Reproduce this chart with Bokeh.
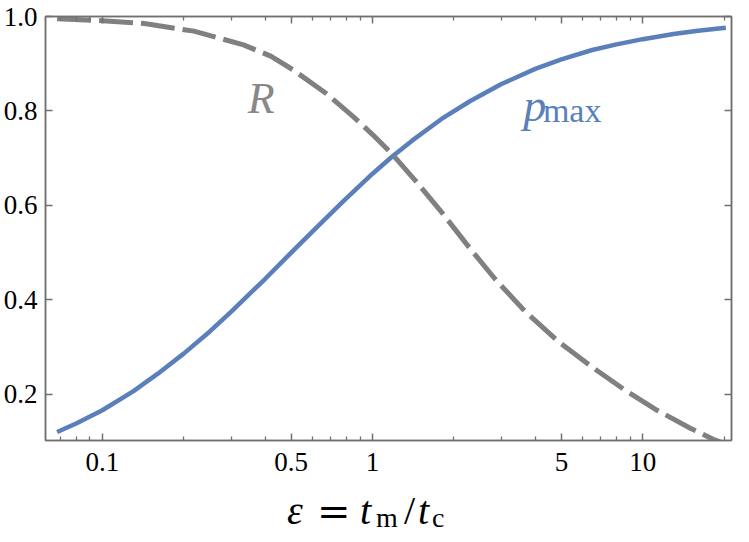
from bokeh.plotting import figure
from bokeh.layouts import column
from bokeh.models import (FixedTicker, LinearAxis, LogAxis, Label, Range1d,
                          CustomJSTickFormatter, Div)
from bokeh.embed import file_html
from bokeh.resources import INLINE

# ---- data ----
eps_p = [0.068, 0.08, 0.1, 0.13, 0.16, 0.2, 0.25, 0.3, 0.4, 0.5, 0.6, 0.78,
         1.0, 1.18, 1.4, 1.8, 2.3, 3.0, 4.0, 5.0, 6.5, 8.0, 10.0, 13.0, 16.0, 20.3]
p_max = [0.120, 0.138, 0.166, 0.206, 0.243, 0.286, 0.333, 0.375, 0.444, 0.500,
         0.545, 0.609, 0.667, 0.703, 0.737, 0.783, 0.821, 0.857, 0.889, 0.909,
         0.929, 0.941, 0.952, 0.963, 0.970, 0.976]

eps_R = [0.068, 0.1, 0.143, 0.218, 0.333, 0.42, 0.508, 0.674, 0.844, 1.0,
         1.184, 1.443, 1.81, 2.27, 2.84, 3.66, 4.86, 6.44, 8.53, 11.3, 15.0, 18.3, 19.3]
R_val = [0.995, 0.991, 0.985, 0.969, 0.940, 0.916, 0.887, 0.837, 0.789, 0.750,
         0.708, 0.652, 0.584, 0.512, 0.444, 0.376, 0.312, 0.259, 0.210, 0.166,
         0.128, 0.104, 0.099]

x_ticks = [0.1, 0.5, 1, 5, 10]
x_tick_labels = ["0.1", "0.5", "1", "5", "10"]
x_minor_ticks = [0.07, 0.08, 0.09, 0.2, 0.3, 0.4, 0.6, 0.7, 0.8, 0.9,
                 2, 3, 4, 6, 7, 8, 9, 20]
y_ticks = [0.2, 0.4, 0.6, 0.8, 1.0]
y_tick_labels = ["0.2", "0.4", "0.6", "0.8", "1.0"]

# ---- styling ----
FRAME = "#707070"
BLUE = "#5a7fbb"
GRAY = "#808080"
SERIF = "Liberation Serif"

W = 733
H_MAIN = 480
H_TITLE = 526 - H_MAIN

p = figure(width=W, height=H_MAIN, x_axis_type="log",
           x_range=Range1d(0.0616, 21.3), y_range=Range1d(0.102, 1.0),
           output_backend="svg", toolbar_location=None,
           min_border_left=43, min_border_right=2, min_border_top=16,
           min_border_bottom=40)
p.xgrid.visible = False
p.ygrid.visible = False
p.outline_line_color = FRAME
p.outline_line_width = 1.5
p.background_fill_color = "white"
p.border_fill_color = "white"

fmt_code = ("const i = v.findIndex(t => Math.abs(t - tick) < 1e-9 * Math.max(1, Math.abs(tick)));"
            "return i >= 0 ? l[i] : '';")


def style_axis(ax, labels=True):
    ax.axis_line_color = FRAME
    ax.axis_line_width = 1.5
    ax.major_tick_line_color = FRAME
    ax.minor_tick_line_color = FRAME
    ax.major_tick_line_width = 1.5
    ax.minor_tick_line_width = 1.3
    ax.major_tick_in = 7
    ax.major_tick_out = 0
    ax.minor_tick_in = 4
    ax.minor_tick_out = 0
    ax.major_label_text_font = SERIF
    ax.major_label_text_color = "black"
    ax.major_label_text_font_size = "27px" if labels else "0px"
    if not labels:
        ax.major_label_standoff = 0


xa = p.xaxis[0]
xa.ticker = FixedTicker(ticks=x_ticks, minor_ticks=x_minor_ticks)
xa.formatter = CustomJSTickFormatter(args=dict(v=x_ticks, l=x_tick_labels), code=fmt_code)
style_axis(xa)
xa.major_label_standoff = 12

ya = p.yaxis[0]
ya.ticker = FixedTicker(ticks=y_ticks, minor_ticks=[])
ya.formatter = CustomJSTickFormatter(args=dict(v=y_ticks, l=y_tick_labels), code=fmt_code)
style_axis(ya)
ya.major_label_standoff = 8

top = LogAxis(ticker=FixedTicker(ticks=x_ticks, minor_ticks=x_minor_ticks),
              formatter=CustomJSTickFormatter(code="return '';"))
style_axis(top, labels=False)
p.add_layout(top, "above")

right = LinearAxis(ticker=FixedTicker(ticks=y_ticks, minor_ticks=[]),
                   formatter=CustomJSTickFormatter(code="return '';"))
style_axis(right, labels=False)
p.add_layout(right, "right")

# ---- curves ----
p.line(eps_p, p_max, line_color=BLUE, line_width=4.5)
p.line(eps_R, R_val, line_color=GRAY, line_width=5, line_dash="34 8")

# ---- in-plot labels ----
p.add_layout(Label(x=0.345, y=0.826, text="R", text_font=SERIF,
                   text_font_style="italic", text_font_size="44px",
                   text_color="#888888", text_baseline="alphabetic",
                   text_align="left"))
p.add_layout(Label(x=3.61, y=0.812, text="p", text_font=SERIF,
                   text_font_style="italic", text_font_size="46px",
                   text_color=BLUE, text_baseline="alphabetic",
                   text_align="left"))
p.add_layout(Label(x=4.27, y=0.800, text="max", text_font=SERIF,
                   text_font_size="34px",
                   text_color=BLUE, text_baseline="alphabetic",
                   text_align="left"))

# ---- x axis title as real HTML text: epsilon = t_m / t_c ----
def piece(txt, left, top, size, lh, italic=False, font=SERIF):
    style = ("position:absolute;left:%dpx;top:%dpx;font-size:%dpx;line-height:%dpx;"
             "font-family:'%s';font-style:%s;white-space:nowrap;color:black;"
             % (left, top, size, lh, font, "italic" if italic else "normal"))
    return "<span style=\"%s\">%s</span>" % (style, txt)


title_html = (
    "<div style=\"position:relative;width:%dpx;height:%dpx;overflow:visible;\">" % (W, H_TITLE)
    + piece("ε", 287, 16, 40, 30, italic=True)
    + piece("=", 317, 16, 40, 30, font="DejaVu Serif")
    + piece("t", 360, 16, 40, 30, italic=True)
    + piece("m", 376, 31, 28, 14)
    + piece("/", 404, 16, 40, 30)
    + piece("t", 418, 16, 40, 30, italic=True)
    + piece("c", 432, 31, 28, 14)
    + "</div>"
)
xlabel = Div(text=title_html, width=W, height=H_TITLE, margin=(0, 0, 0, 0))

layout = column(p, xlabel, spacing=0)
open("out.html", "w").write(file_html(layout, INLINE))
